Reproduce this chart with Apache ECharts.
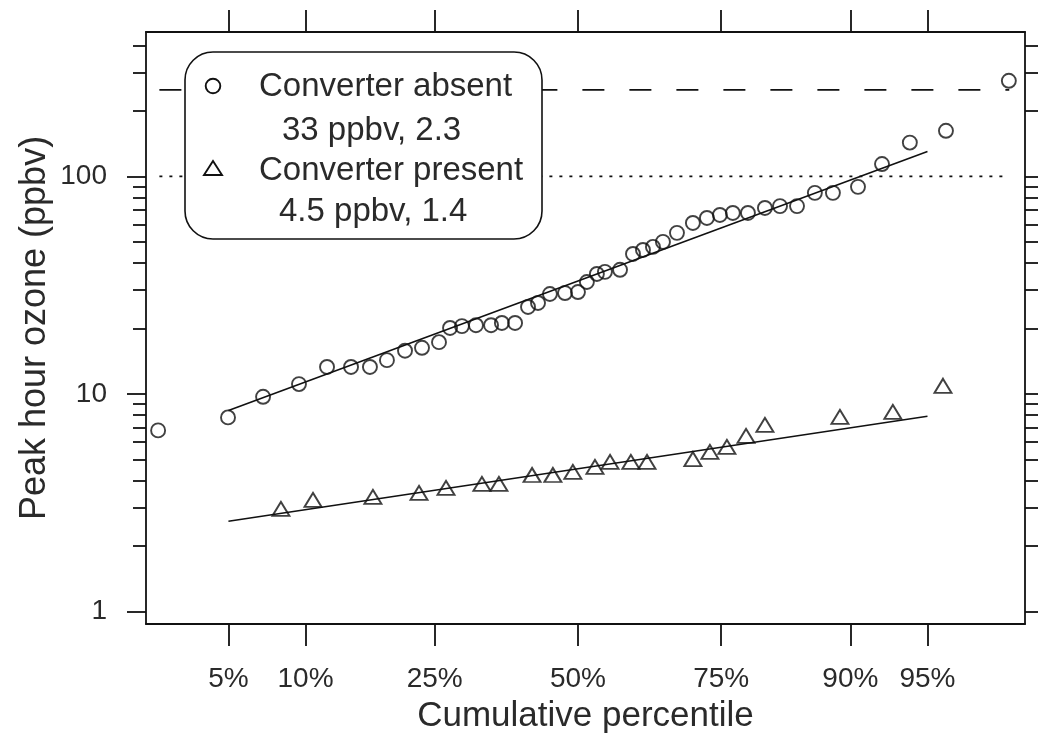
<!DOCTYPE html>
<html>
<head>
<meta charset="utf-8">
<title>Peak hour ozone</title>
<script src="https://cdn.jsdelivr.net/npm/echarts@6/dist/echarts.min.js"></script>
<style>
  html, body { margin: 0; padding: 0; background: #fff; }
  #chart { width: 1038px; height: 735px; }
</style>
</head>
<body>
<div id="chart"></div>
<script>
// normal scores (z) of the cumulative percentile axis
const pctZ = [-1.645, -1.282, -0.674, 0, 0.674, 1.282, 1.645];
const pctLabels = ['5%', '10%', '25%', '50%', '75%', '90%', '95%'];

// y ticks (ppbv)
const majorY = [1, 10, 100];
const minorY = [2, 3, 4, 5, 6, 7, 8, 9, 20, 30, 40, 50, 60, 70, 80, 90, 200, 300, 400];

// converter absent (circles)
const absentZ = [-1.976, -1.647, -1.482, -1.313, -1.181, -1.068, -0.979, -0.899, -0.814, -0.734,
    -0.654, -0.602, -0.546, -0.48, -0.409, -0.358, -0.296, -0.235, -0.188, -0.132,
    -0.061, 0, 0.042, 0.089, 0.127, 0.198, 0.259, 0.306, 0.353, 0.4,
    0.466, 0.541, 0.607, 0.668, 0.729, 0.8, 0.88, 0.951, 1.031, 1.115,
    1.2, 1.318, 1.431, 1.562, 1.732, 2.028];
const absentPpbv = [6.8, 7.8, 9.7, 11.1, 13.3, 13.3, 13.3, 14.3, 15.8, 16.3,
    17.3, 20.1, 20.5, 20.7, 20.7, 21.2, 21.2, 25.1, 26.2, 28.8,
    29.1, 29.4, 32.7, 35.6, 36.4, 37.2, 44.0, 45.9, 47.4, 50.0,
    55.0, 61.1, 64.4, 66.5, 67.9, 67.9, 71.6, 73.0, 73.0, 84.0,
    84.0, 89.5, 114, 143, 162, 275];

// converter present (triangles)
const presentZ = [-1.398, -1.247, -0.965, -0.748, -0.621, -0.452, -0.372, -0.216, -0.118, -0.024,
    0.08, 0.151, 0.249, 0.325, 0.541, 0.621, 0.701, 0.791, 0.88, 1.233, 1.482, 1.718];
const presentPpbv = [2.96, 3.26, 3.36, 3.51, 3.70, 3.86, 3.86, 4.24, 4.24, 4.38,
    4.62, 4.87, 4.87, 4.87, 5.02, 5.41, 5.71, 6.41, 7.20, 7.84, 8.27, 10.9];

// fitted lines, 5% to 95%
const fitZ = [-1.645, 1.645];
const absentFit = [8.4, 130];
const presentFit = [2.6, 7.9];

// reference levels
const refDashed = { z: [-1.97, 2.03], ppbv: 250 };
const refDotted = { z: [-1.97, 2.0], ppbv: 100 };

const xMin = -2.033, xMax = 2.104;
const yMin = 0.876, yMax = 461;

const font = 'Liberation Sans';
const ink = '#111';
const txt = '#2a2a2a';

function pairs(xs, ys) {
    return xs.map((x, i) => [x, ys[i]]);
}
const log10 = v => Math.log10(v);

var myChart = echarts.init(document.getElementById('chart'));

// companion value axis for log ticks
function tickAxis(pos, vals, len, labels, extra) {
    return Object.assign({
        type: 'value',
        position: pos,
        min: log10(yMin),
        max: log10(yMax),
        axisLine: { show: false, onZero: false },
        splitLine: { show: false },
        axisTick: {
            show: true, inside: false, length: len,
            customValues: vals.map(log10),
            lineStyle: { color: ink, width: 1.8 }
        },
        axisLabel: labels ? {
            show: true,
            customValues: vals.map(log10),
            margin: 39,
            fontSize: 28,
            fontFamily: font,
            color: txt,
            formatter: v => String(Math.round(Math.pow(10, v)))
        } : { show: false }
    }, extra || {});
}

function xAxisOf(pos, labels) {
    return {
        type: 'value',
        position: pos,
        min: xMin,
        max: xMax,
        axisLine: { show: true, onZero: false, lineStyle: { color: ink, width: 1.8 } },
        splitLine: { show: false },
        axisTick: {
            show: true, inside: false, length: 22,
            customValues: pctZ,
            lineStyle: { color: ink, width: 1.8 }
        },
        axisLabel: labels ? {
            show: true,
            customValues: pctZ,
            margin: 41,
            fontSize: 28,
            fontFamily: font,
            color: txt,
            formatter: function (v) {
                let i = pctZ.findIndex(t => Math.abs(t - v) < 1e-6);
                return i >= 0 ? pctLabels[i] : '';
            }
        } : { show: false },
        name: labels ? 'Cumulative percentile' : '',
        nameLocation: 'middle',
        nameGap: 75,
        nameMoveOverlap: false,
        nameTextStyle: { fontSize: 35, fontFamily: font, color: txt }
    };
}

function legendText(s, x, y) {
    return {
        type: 'text',
        x: x,
        y: y,
        z: 101,
        style: {
            text: s,
            fontSize: 33,
            fontFamily: font,
            fill: txt,
            align: 'left',
            verticalAlign: 'middle',
            textAlign: 'left',
            textVerticalAlign: 'middle'
        }
    };
}

var option = {
    animation: false,
    grid: { left: 146, right: 13, top: 32, bottom: 111, containLabel: false, outerBoundsMode: 'none' },
    xAxis: [xAxisOf('bottom', true), xAxisOf('top', false)],
    yAxis: [
        {
            type: 'log',
            logBase: 10,
            position: 'left',
            min: yMin,
            max: yMax,
            axisLine: { show: true, onZero: false, lineStyle: { color: ink, width: 1.8 } },
            axisTick: { show: false },
            axisLabel: { show: false },
            splitLine: { show: false },
            minorTick: { show: false }
        },
        tickAxis('left', majorY, 19, true, {
            name: 'Peak hour ozone (ppbv)',
            nameLocation: 'middle',
            nameGap: 93,
            nameMoveOverlap: false,
            nameTextStyle: { fontSize: 36, fontFamily: font, color: txt }
        }),
        tickAxis('left', minorY, 13, false),
        tickAxis('right', majorY, 19, false, {
            axisLine: { show: true, onZero: false, lineStyle: { color: ink, width: 1.8 } }
        }),
        tickAxis('right', minorY, 13, false)
    ],
    series: [
        {
            name: 'ref250',
            type: 'line',
            data: refDashed.z.map(z => [z, refDashed.ppbv]),
            symbol: 'none',
            silent: true,
            lineStyle: { color: ink, width: 1.8, type: [22, 25] }
        },
        {
            name: 'ref100',
            type: 'line',
            data: refDotted.z.map(z => [z, refDotted.ppbv]),
            symbol: 'none',
            silent: true,
            lineStyle: { color: ink, width: 1.6, type: [3, 7] }
        },
        {
            name: 'absentFit',
            type: 'line',
            data: pairs(fitZ, absentFit),
            symbol: 'none',
            lineStyle: { color: ink, width: 1.6 }
        },
        {
            name: 'presentFit',
            type: 'line',
            data: pairs(fitZ, presentFit),
            symbol: 'none',
            lineStyle: { color: ink, width: 1.6 }
        },
        {
            name: 'Converter absent',
            type: 'scatter',
            data: pairs(absentZ, absentPpbv),
            symbol: 'circle',
            symbolSize: 14,
            itemStyle: { color: 'rgba(0,0,0,0)', borderColor: ink, borderWidth: 1.9 }
        },
        {
            name: 'Converter present',
            type: 'scatter',
            data: pairs(presentZ, presentPpbv),
            symbol: 'triangle',
            symbolSize: [17, 14],
            itemStyle: { color: 'rgba(0,0,0,0)', borderColor: ink, borderWidth: 1.9 }
        }
    ],
    graphic: [
        {
            type: 'rect',
            z: 100,
            shape: { x: 185, y: 52, width: 357, height: 187, r: 28 },
            style: { fill: '#fff', stroke: ink, lineWidth: 1.6 }
        },
        {
            type: 'circle',
            z: 101,
            shape: { cx: 213, cy: 86, r: 7.3 },
            style: { fill: 'none', stroke: ink, lineWidth: 1.9 }
        },
        {
            type: 'polygon',
            z: 101,
            shape: { points: [[213, 161], [222, 175], [204, 175]] },
            style: { fill: 'none', stroke: ink, lineWidth: 1.9 }
        },
        legendText('Converter absent', 259, 87),
        legendText('33 ppbv, 2.3', 282, 131),
        legendText('Converter present', 259, 171),
        legendText('4.5 ppbv, 1.4', 279, 212)
    ]
};

myChart.setOption(option);
window.addEventListener('resize', function () {
    myChart.resize();
});
</script>
</body>
</html>
